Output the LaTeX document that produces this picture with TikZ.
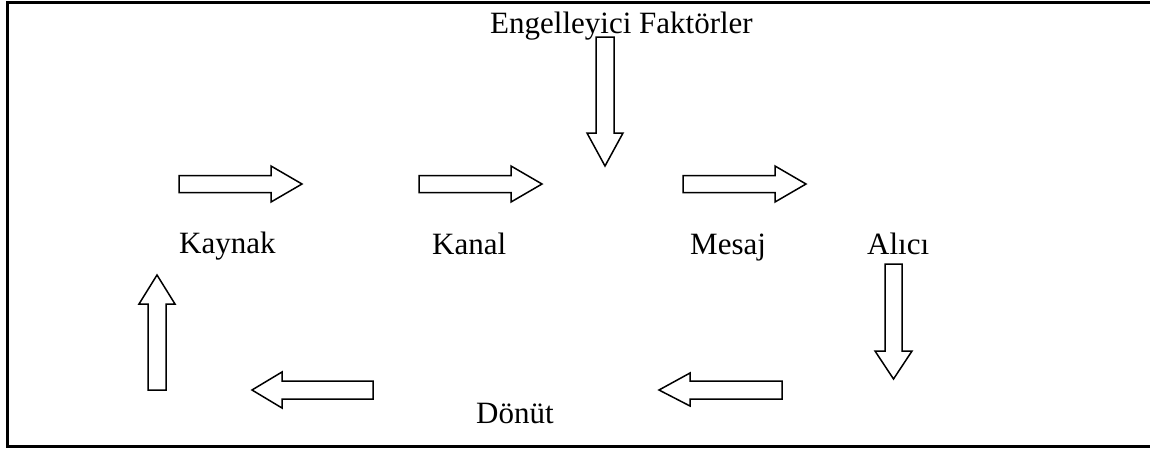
\documentclass[tikz,border=0pt]{standalone}
\usepackage{fontspec}
\setmainfont{Liberation Serif}
\begin{document}
\begin{tikzpicture}[x=1pt,y=-1pt,
  blockarrow/.style={draw=black,fill=white,line width=1.5pt,line join=miter},
  label/.style={anchor=base west,inner sep=0pt,font=\fontsize{31}{37}\selectfont}]
\useasboundingbox (0,0) rectangle (1150,448);
% frame
\draw[line width=3pt] (1150,2) -- (7,2) -- (7,446) -- (1150,446);
% labels
\node[label] (engel) at (490,33) {Engelleyici Faktörler};
\node[label] (kaynak) at (179,253) {Kaynak};
\node[label] (kanal) at (432,254) {Kanal};
\node[label] (mesaj) at (690,254) {Mesaj};
\node[label] (alici) at (867,254) {Alıcı};
\node[label] (donut) at (476,423) {Dönüt};
% right arrows
\draw[blockarrow] (179,175.5) -- (271,175.5) -- (271,166) -- (302,184) -- (271,202) -- (271,192.5) -- (179,192.5) -- cycle;
\draw[blockarrow] (419,175.5) -- (511,175.5) -- (511,166) -- (542,184) -- (511,202) -- (511,192.5) -- (419,192.5) -- cycle;
\draw[blockarrow] (683,175.5) -- (775,175.5) -- (775,166) -- (806,184) -- (775,202) -- (775,192.5) -- (683,192.5) -- cycle;
% down arrows
\draw[blockarrow] (596,37) -- (614,37) -- (614,133) -- (623,133) -- (605,166) -- (587,133) -- (596,133) -- cycle;
\draw[blockarrow] (885,264) -- (902,264) -- (902,351) -- (912,351) -- (893.5,379) -- (875,351) -- (885,351) -- cycle;
% left arrows
\draw[blockarrow] (782,381) -- (690,381) -- (690,373) -- (659,390) -- (690,406) -- (690,399) -- (782,399) -- cycle;
\draw[blockarrow] (373,381) -- (282,381) -- (282,372) -- (252,390) -- (282,408) -- (282,399) -- (373,399) -- cycle;
% up arrow
\draw[blockarrow] (148,390) -- (148,304) -- (139,304) -- (157,275) -- (175,304) -- (166,304) -- (166,390) -- cycle;
\end{tikzpicture}
\end{document}
